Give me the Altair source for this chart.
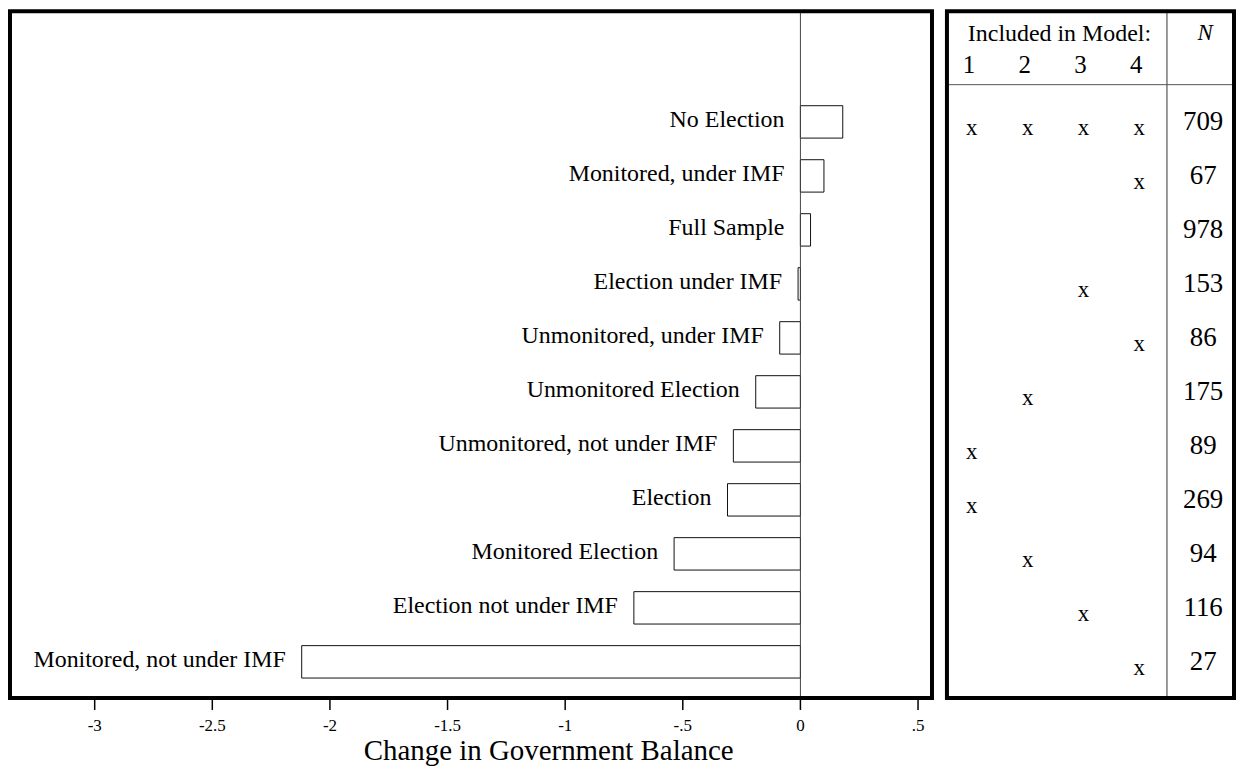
import altair as alt
import pandas as pd

# ---- data ----
CATEGORIES = [
    "No Election", "Monitored, under IMF", "Full Sample", "Election under IMF",
    "Unmonitored, under IMF", "Unmonitored Election", "Unmonitored, not under IMF",
    "Election", "Monitored Election", "Election not under IMF", "Monitored, not under IMF",
]
VALUES = [0.18, 0.10, 0.043, -0.01, -0.088, -0.19, -0.285, -0.31, -0.537, -0.708, -2.12]
N_OBS = [709, 67, 978, 153, 86, 175, 89, 269, 94, 116, 27]
INCLUDED = [[1, 2, 3, 4], [4], [], [3], [4], [2], [1], [1], [2], [3], [4]]
MODELS = [1, 2, 3, 4]
TICK_VALUES = [-3, -2.5, -2, -1.5, -1, -0.5, 0, 0.5]
TICK_LABELS = ["-3", "-2.5", "-2", "-1.5", "-1", "-.5", "0", ".5"]
X_TITLE = "Change in Government Balance"
HEADER = "Included in Model:"
N_HEADER = "N"

FONT = "Liberation Serif"

# ---- layout (scale units) ----
W_LEFT, W_RIGHT, H = 925, 288, 757
XL0, XL1 = -3.360, 0.5593          # left panel x domain
XR0, XR1 = 0.554, 5.696            # right panel x domain (model-column units)
YTOP, FB, YBOT = -2.05, 10.67, 11.925   # frame top, frame bottom, plot bottom (row units)
STEP = H / (YBOT - YTOP)
TICK_START = FB - 1 / STEP
TICK_END = FB + 12 / STEP
TICKLAB_Y = FB + 20 / STEP
TITLE_Y = FB + 62 / STEP
TITLE_X = -1.07

bars = pd.DataFrame({"row": list(range(len(CATEGORIES))), "label": CATEGORIES, "value": VALUES})
nobs = pd.DataFrame({"row": list(range(len(N_OBS))), "n": [str(v) for v in N_OBS]})
marks = pd.DataFrame(
    [{"row": r, "model": m, "mark": "x"} for r, ms in enumerate(INCLUDED) for m in ms]
)
models = pd.DataFrame({"model": MODELS, "lab": [str(m) for m in MODELS]})
ticks_df = pd.DataFrame({"tv": TICK_VALUES, "tl": TICK_LABELS})
one = pd.DataFrame({"k": [0]})

y_scale = alt.Scale(domain=[YTOP, YBOT], reverse=True, nice=False, zero=False)
x_left = alt.Scale(domain=[XL0, XL1], nice=False, zero=False)
x_right = alt.Scale(domain=[XR0, XR1], nice=False, zero=False)


def XL(f):
    return alt.X(f, scale=x_left, axis=None)


def XR(f):
    return alt.X(f, scale=x_right, axis=None)


def Y(f):
    return alt.Y(f, scale=y_scale, axis=None)


# ---- left panel ----
rects = alt.Chart(bars).transform_calculate(
    y0="datum.row - 0.3", y1="datum.row + 0.3", z="0"
).mark_rect(fill="white", stroke="#111111", strokeWidth=1).encode(
    x=XL("value:Q"), x2="z:Q", y=Y("y0:Q"), y2="y1:Q",
)

zero = alt.Chart(one).transform_calculate(
    z="0", ya=str(YTOP), yb=str(FB)
).mark_rule(color="#444444", strokeWidth=1).encode(
    x=XL("z:Q"), y=Y("ya:Q"), y2="yb:Q"
)

labels = alt.Chart(bars).transform_calculate(
    lx="min(datum.value, 0)"
).mark_text(align="right", baseline="middle", dx=-16, dy=-2,
            font=FONT, fontSize=24, color="black").encode(
    x=XL("lx:Q"), y=Y("row:Q"), text="label:N",
)

frame_l = alt.Chart(one).transform_calculate(
    a=str(XL0), b=str(XL1), c=str(YTOP), d=str(FB)
).mark_rect(fill="transparent", stroke="black", strokeWidth=4).encode(
    x=XL("a:Q"), x2="b:Q", y=Y("c:Q"), y2="d:Q"
)

tick_rules = alt.Chart(ticks_df).transform_calculate(
    ya=str(TICK_START), yb=str(TICK_END)
).mark_rule(color="black", strokeWidth=1.5).encode(
    x=XL("tv:Q"), y=Y("ya:Q"), y2="yb:Q"
)

tick_text = alt.Chart(ticks_df).transform_calculate(
    ty=str(TICKLAB_Y)
).mark_text(baseline="top", font=FONT, fontSize=17, color="black").encode(
    x=XL("tv:Q"), y=Y("ty:Q"), text="tl:N"
)

title = alt.Chart(one).transform_calculate(
    tx=str(TITLE_X), ty=str(TITLE_Y), t=f"'{X_TITLE}'"
).mark_text(baseline="alphabetic", font=FONT, fontSize=29, color="black").encode(
    x=XL("tx:Q"), y=Y("ty:Q"), text="t:N"
)

left = alt.layer(rects, zero, labels, frame_l, tick_rules, tick_text, title).properties(
    width=W_LEFT, height=H)

# ---- right panel (table) ----
vline = alt.Chart(one).transform_calculate(
    vx="4.495", ya=str(YTOP), yb=str(FB)
).mark_rule(color="#333333", strokeWidth=1).encode(x=XR("vx:Q"), y=Y("ya:Q"), y2="yb:Q")

hline = alt.Chart(one).transform_calculate(
    hy="-0.69", xa=str(XR0), xb=str(XR1)
).mark_rule(color="#555555", strokeWidth=1).encode(y=Y("hy:Q"), x=XR("xa:Q"), x2="xb:Q")

xmarks = alt.Chart(marks).mark_text(baseline="middle", dy=6, font=FONT, fontSize=23,
                                    color="black").encode(
    x=XR("model:Q"), y=Y("row:Q"), text="mark:N",
)

ntext = alt.Chart(nobs).transform_calculate(nx="5.143").mark_text(
    baseline="middle", font=FONT, fontSize=27, color="black").encode(
    x=XR("nx:Q"), y=Y("row:Q"), text="n:N",
)

model_head = alt.Chart(models).transform_calculate(hy="-1.05").mark_text(
    baseline="middle", dx=-3, font=FONT, fontSize=25, color="black").encode(
    x=XR("model:Q"), y=Y("hy:Q"), text="lab:N",
)

head_df = pd.DataFrame({"t": [HEADER, N_HEADER], "hx": [2.57, 5.18], "hy": [-1.63, -1.65]})
head1 = alt.Chart(head_df.iloc[[0]]).mark_text(
    baseline="middle", font=FONT, fontSize=24, color="black").encode(
    x=XR("hx:Q"), y=Y("hy:Q"), text="t:N",
)
head2 = alt.Chart(head_df.iloc[[1]]).mark_text(
    baseline="middle", font=FONT, fontSize=23, fontStyle="italic", color="black").encode(
    x=XR("hx:Q"), y=Y("hy:Q"), text="t:N",
)

frame_r = alt.Chart(one).transform_calculate(
    a=str(XR0), b=str(XR1), c=str(YTOP), d=str(FB)
).mark_rect(fill="transparent", stroke="black", strokeWidth=4).encode(
    x=XR("a:Q"), x2="b:Q", y=Y("c:Q"), y2="d:Q"
)

right = alt.layer(vline, hline, xmarks, ntext, model_head, head1, head2, frame_r).properties(
    width=W_RIGHT, height=H)

chart = alt.hconcat(left, right, spacing=11).properties(padding=0).configure_view(
    stroke="transparent", strokeWidth=0
)

chart.save("out.html", embed_options={"renderer": "svg", "actions": False})
